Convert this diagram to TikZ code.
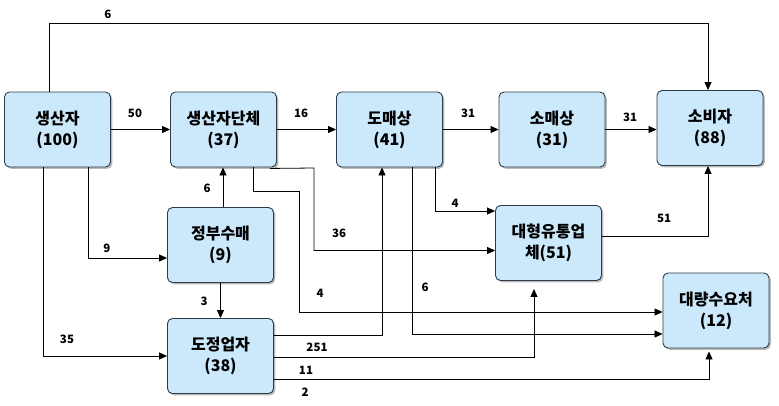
\documentclass[tikz,border=0pt]{standalone}
\usepackage{fontspec}
\newfontfamily\kr{Noto Sans CJK KR}
\usetikzlibrary{arrows.meta,shadows}
\definecolor{boxfill}{HTML}{CCE9FB}
\definecolor{boxline}{HTML}{2E3B48}
\tikzset{
  box/.style={draw=boxline, line width=0.9pt, fill=boxfill, rounded corners=5pt,
    minimum width=106pt, minimum height=75pt, align=center,
    font=\kr\bfseries\fontsize{16}{21}\selectfont,
    drop shadow={shadow xshift=1.8pt, shadow yshift=-1.8pt, fill=black!45, opacity=0.6}},
  arr/.style={draw=black, line width=0.8pt, -{Triangle[length=8pt,width=7pt]}},
  lab/.style={font=\kr\bfseries\fontsize{11.5}{13}\selectfont, inner sep=0pt}
}
\begin{document}
\begin{tikzpicture}[x=1pt,y=-1pt]
\useasboundingbox (0,0) rectangle (779,405);
\fill[white] (0,0) rectangle (779,405);
% nodes
\node[box] (p)    at (57.5,129.5) {생산자\\(100)};
\node[box] (g)    at (223.5,129.5) {생산자단체\\(37)};
\node[box] (w)    at (389.5,129.5) {도매상\\(41)};
\node[box] (r)    at (552,129.5) {소매상\\(31)};
\node[box] (c)    at (710,128) {소비자\\(88)};
\node[box] (gov)  at (220.5,245) {정부수매\\(9)};
\node[box] (mill) at (220.5,356) {도정업자\\(38)};
\node[box] (big)  at (548.5,243) {대형유통업\\체(51)};
\node[box] (bulk) at (716,310.5) {대량수요처\\(12)};
% connectors
\draw[arr] ([xshift=-8.5pt]p.north) |- ([xshift=-2pt]c.north |- 0,23) -- ([xshift=-2pt]c.north);
\draw[arr] (p.east) -- (g.west);
\draw[arr] (g.east) -- (w.west);
\draw[arr] (w.east) -- (r.west);
\draw[arr] (r.east) -- (r.east -| c.west);
\draw[arr] ([xshift=-14.5pt]p.south) |- (mill.west);
\draw[arr] ([xshift=30.5pt]p.south) |- ([yshift=-13pt]gov.west);
\draw[arr] ([xshift=2.5pt]gov.north) -- ([xshift=2.5pt]gov.north |- g.south);
\draw[arr] (gov.south) -- (mill.north);
\draw[arr] ([xshift=29.5pt]g.south) |- (299,191) |- ([yshift=-1.5pt]bulk.west);
\draw[arr] ([xshift=-7pt,yshift=-1pt]g.south east) -- (314,168) |- ([yshift=-7.5pt]big.west);
\draw[arr] ([xshift=22.5pt]w.south) |- ([yshift=-23.5pt]bulk.west);
\draw[arr] ([xshift=45.5pt]w.south) |- ([yshift=32pt]big.west);
\draw[arr] ([yshift=6.5pt]big.east) -| ([xshift=-2pt]c.south);
\draw[arr] ([yshift=21pt]mill.east) -| ([xshift=-7.5pt]w.south);
\draw[arr, shorten >=8pt] ([yshift=-1pt]mill.east) -| ([xshift=-14.5pt]big.south);
\draw[arr, shorten >=3pt] ([yshift=-23pt]mill.east) -| ([xshift=-7pt]bulk.south);
% labels
\node[lab] (l1)  at (108,14)  {6};
\node[lab] (l2)  at (135,113) {50};
\node[lab] (l3)  at (301,113) {16};
\node[lab] (l4)  at (468,113) {31};
\node[lab] (l5)  at (630,117) {31};
\node[lab] (l6)  at (207,188) {6};
\node[lab] (l7)  at (107,248) {9};
\node[lab] (l8)  at (204,301) {3};
\node[lab] (l9)  at (67,339)  {35};
\node[lab] (l10) at (339,233) {36};
\node[lab] (l11) at (320,293) {4};
\node[lab] (l12) at (455,203) {4};
\node[lab] (l13) at (425,287) {6};
\node[lab] (l14) at (664,218) {51};
\node[lab] (l15) at (317,347) {251};
\node[lab] (l16) at (306,370) {11};
\node[lab] (l17) at (305,392) {2};
\end{tikzpicture}
\end{document}
